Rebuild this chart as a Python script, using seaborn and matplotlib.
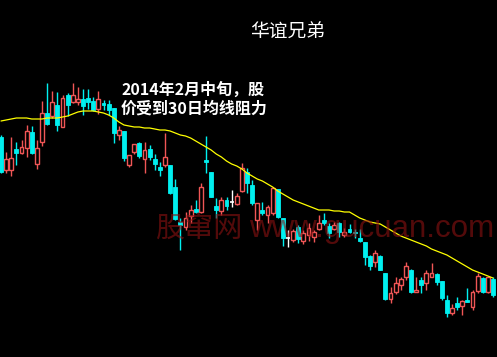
import numpy as np
import pandas as pd
import matplotlib
matplotlib.use("Agg")
import matplotlib.pyplot as plt
import seaborn as sns

# ---- data (price units) ----
opens = [223,190,190,211,207,212,228,196,218,247,
         244,255,233,265,258,258,261,262,259,251,
         257,256,252,225,229,195,208,217,201,211,
         201,193,195,195,173,138,133,144,151,148,
         200,188,154,149,160,158,156,169,188,175,
         140,150,145,147,171,142,122,120,133,119,
         125,123,131,140,134,131,137,125,131,128,
         122,118,104,98,104,87,61,68,75,83,
         90,68,80,77,83,86,79,60,47,57,
         54,60,53,69,82,68,81]
highs = [225,208,223,218,220,235,234,220,259,277,
         269,268,265,267,277,273,271,271,263,269,
         260,260,252,234,229,205,216,218,218,215,
         206,198,227,195,181,142,148,155,160,177,
         224,188,162,163,163,170,167,197,192,180,
         157,158,155,173,171,142,130,131,135,130,
         137,130,145,147,137,138,138,132,136,131,
         131,118,105,110,105,87,73,83,83,98,
         91,83,83,90,97,87,79,65,56,63,
         60,72,70,87,83,83,83]
lows = [187,187,184,195,206,203,206,191,214,235,
        242,229,233,244,257,255,245,251,249,246,
        250,245,217,220,199,193,206,202,187,200,
        190,184,193,166,140,110,130,137,147,147,
        187,163,142,145,150,153,155,168,167,155,
        130,145,137,145,142,114,113,118,117,116,
        119,118,130,135,122,130,123,123,127,122,
        118,95,90,93,90,60,57,66,70,80,
        67,68,67,70,83,75,60,43,45,50,
        45,58,50,67,67,67,63]
closes = [188,201,202,207,213,229,207,212,247,236,
          258,235,262,255,265,261,254,258,250,261,
          255,250,227,230,202,205,216,204,210,203,
          196,190,203,167,141,135,142,150,148,173,
          198,163,150,160,154,158,164,192,177,157,
          157,147,153,172,143,122,122,129,121,127,
          132,128,137,137,127,135,128,128,128,127,
          119,103,94,107,90,61,67,77,81,94,
          68,70,75,87,87,78,62,47,52,53,
          59,58,68,84,68,83,65]
ma30 = [239,240,241,242,242,242,241,241,241,242,
        242,242,243,244,246,248,249,249,249,248,
        247,245,242,238,235,234,233,233,232,232,
        231,230,230,229,227,225,224,222,219,216,
        213,210,206,203,199,196,194,191,187,184,
        181,179,176,173,169,166,163,160,158,156,
        154,152,150,150,150,149,149,148,148,145,
        142,140,138,137,136,133,130,127,124,122,
        120,118,116,114,111,109,107,105,102,99,
        96,93,90,88,86,84,82]

title_text = "华谊兄弟"
note_lines = ["2014年2月中旬，股", "价受到30日均线阻力"]
watermark_cn = "股窜网"
watermark_en = "www.gucuan.com"

df = pd.DataFrame({"open": opens, "high": highs, "low": lows,
                   "close": closes, "ma": ma30})
df["idx"] = np.arange(len(df))

sns.set_style("dark", {"axes.facecolor": "black", "figure.facecolor": "black"})

W, H = 497, 357
fig = plt.figure(figsize=(W / 100, H / 100), dpi=100, facecolor="black")
ax = fig.add_axes([0, 0, 1, 1])
ax.set_facecolor("black")

step = 5.125
ax.set_xlim(-1 / step, -1 / step + W / step)
ax.set_ylim(3, 360)
ax.axis("off")

RED = "#f05656"
CYAN = "#00f0f0"
bw = 0.74

up = df[df.close > df.open]
down = df[df.close < df.open]
flat = df[df.close == df.open]

# wicks
for sub, col in ((up, RED), (down, CYAN), (flat, "white")):
    ax.vlines(sub.idx, sub.low, sub.high, color=col, linewidth=1.0, zorder=2)

# up candles: hollow red
ax.bar(up.idx, up.close - up.open, bottom=up.open, width=bw,
       facecolor="black", edgecolor=RED, linewidth=1.0, zorder=3)
# down candles: solid cyan
ax.bar(down.idx, down.open - down.close, bottom=down.close, width=bw,
       facecolor=CYAN, edgecolor=CYAN, linewidth=0.6, zorder=3)
# doji
ax.hlines(flat.close, flat.idx - bw / 2, flat.idx + bw / 2, color="white",
          linewidth=1.2, zorder=3)

# 30-day moving average
sns.lineplot(data=df, x="idx", y="ma", color="#ffff00", linewidth=0.9,
             ax=ax, zorder=4, legend=False)
ax.axis("off")

def px(x, y):
    return (x / W, 1 - y / H)

cjk = ["Noto Sans CJK SC", "DejaVu Sans"]
fig.text(*px(288, 32), title_text, color="white", fontsize=13.5,
         family=cjk, ha="center", va="center")
fig.text(*px(121, 90), note_lines[0], color="white", fontsize=11.5,
         family=cjk, fontweight="bold", ha="left", va="center")
fig.text(*px(121, 109), note_lines[1], color="white", fontsize=11.5,
         family=cjk, fontweight="bold", ha="left", va="center")

wm_col = "#8c1212"
fig.text(*px(155, 229), watermark_cn, color=wm_col, alpha=0.6,
         fontsize=21, family=cjk, ha="left", va="center", zorder=10)
fig.text(*px(249, 229), watermark_en, color=wm_col, alpha=0.6,
         fontsize=22.5, family=["Liberation Sans", "DejaVu Sans"],
         ha="left", va="center", zorder=10)

fig.savefig("out.png", dpi=100, facecolor="black")
